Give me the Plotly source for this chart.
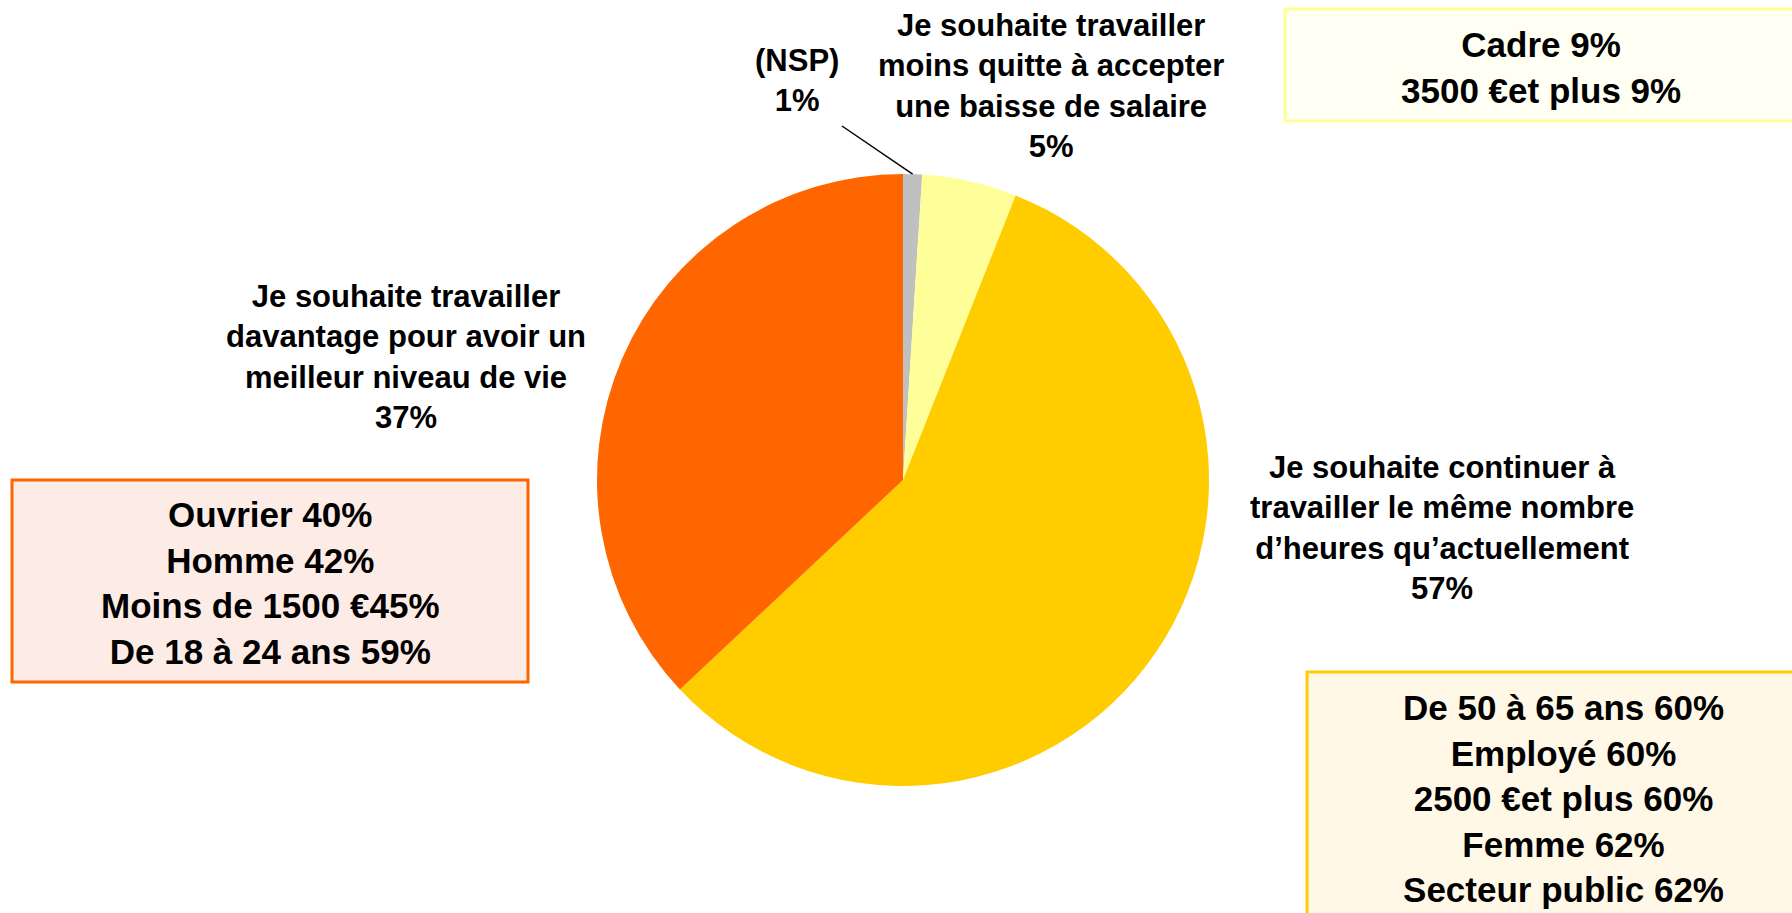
import math
import plotly.graph_objects as go

# data
labels = ["(NSP)",
          "Je souhaite travailler moins quitte à accepter une baisse de salaire",
          "Je souhaite continuer à travailler le même nombre d’heures qu’actuellement",
          "Je souhaite travailler davantage pour avoir un meilleur niveau de vie"]
values = [1, 5, 57, 37]
colors = ["#C0C0C0", "#FFFF99", "#FFCC00", "#FF6600"]

label_texts = ["(NSP)<br>1%",
               "Je souhaite travailler<br>moins quitte à accepter<br>une baisse de salaire<br>5%",
               "Je souhaite continuer à<br>travailler le même nombre<br>d’heures qu’actuellement<br>57%",
               "Je souhaite travailler<br>davantage pour avoir un<br>meilleur niveau de vie<br>37%"]

box_cadre = ["Cadre 9%", "3500 €et plus 9%"]
box_ouvrier = ["Ouvrier 40%", "Homme 42%", "Moins de 1500 €45%", "De 18 à 24 ans 59%"]
box_meme = ["De 50 à 65 ans 60%", "Employé 60%", "2500 €et plus 60%", "Femme 62%", "Secteur public 62%"]

W, H = 1792, 913
FONT = "Liberation Sans, Arial, sans-serif"

# pie geometry (pixels)
cx, cy, r = 903, 480, 306

fig = go.Figure(go.Pie(
    labels=labels, values=values, sort=False, direction="clockwise", rotation=0,
    marker=dict(colors=colors, line=dict(width=0)),
    textinfo="none", hoverinfo="label+percent", showlegend=False,
    domain=dict(x=[(cx - r) / W, (cx + r) / W], y=[1 - (cy + r) / H, 1 - (cy - r) / H]),
))

def px(x):
    return x / W

def py(y):
    return 1 - y / H

shapes = [
    dict(type="rect", xref="paper", yref="paper", x0=px(1285), x1=px(1800), y0=py(121), y1=py(9),
         fillcolor="#FFFFF4", line=dict(color="#FFFF99", width=3), layer="below"),
    dict(type="rect", xref="paper", yref="paper", x0=px(12), x1=px(528), y0=py(682), y1=py(480),
         fillcolor="#FDEBE5", line=dict(color="#FF6600", width=3), layer="below"),
    dict(type="rect", xref="paper", yref="paper", x0=px(1307), x1=px(1800), y0=py(930), y1=py(672),
         fillcolor="#FFF8E6", line=dict(color="#FFCC00", width=3), layer="below"),
]

# leader line to the NSP slice, end point taken from its mid angle
theta = math.radians(360 * values[0] / sum(values) / 2)
tip_x = cx + r * math.sin(theta)
tip_y = cy - r * math.cos(theta)
shapes.append(dict(type="line", xref="paper", yref="paper",
                   x0=px(842), y0=py(126), x1=px(tip_x), y1=py(tip_y),
                   line=dict(color="black", width=1.5)))

annotations = []
label_pos = [(797, 81), (1051, 86), (1442, 528), (406, 357)]
for txt, (x, y) in zip(label_texts, label_pos):
    annotations.append(dict(text="<b>" + txt + "</b>", x=px(x), y=py(y), xref="paper", yref="paper",
                            showarrow=False, xanchor="center", yanchor="middle", align="center",
                            font=dict(family=FONT, size=31, color="#000000")))

box_pos = [(box_cadre, 1541, 67), (box_ouvrier, 270, 583), (box_meme, 1563, 798)]
for lines, x, y in box_pos:
    annotations.append(dict(text="<b>" + "<br>".join(lines) + "</b>", x=px(x), y=py(y),
                            xref="paper", yref="paper", showarrow=False,
                            xanchor="center", yanchor="middle", align="center",
                            font=dict(family=FONT, size=35, color="#000000")))

fig.update_layout(
    width=W, height=H, margin=dict(l=0, r=0, t=0, b=0),
    paper_bgcolor="white", plot_bgcolor="white",
    shapes=shapes, annotations=annotations, showlegend=False,
)

# drop the default body margin so the figure sits at the window origin
fig.write_html("out.html", config={"displayModeBar": False},
               post_script="document.body.style.margin='0';")
